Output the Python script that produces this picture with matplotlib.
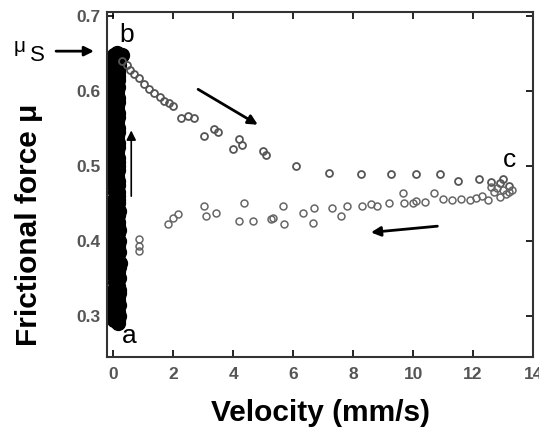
import matplotlib.pyplot as plt

plt.rcParams["font.family"] = ["Liberation Sans", "DejaVu Sans"]

# stick phase a -> b (dense band near zero velocity)
stick_x = [0.16, 0.18, 0.14, 0.17, 0.20, 0.15, 0.18, 0.16, 0.21, 0.14, 0.17, 0.19, 0.15,
           0.17, 0.14, 0.18, 0.15, 0.17, 0.14, 0.16, 0.13, 0.15, 0.17, 0.14, 0.16, 0.13,
           0.15, 0.14, 0.16, 0.13, 0.15, 0.14, 0.13, 0.15, 0.16, 0.18, 0.12]
stick_y = [0.29, 0.30, 0.31, 0.32, 0.33, 0.34, 0.35, 0.36, 0.37, 0.38, 0.39, 0.40, 0.41,
           0.42, 0.43, 0.44, 0.45, 0.46, 0.47, 0.48, 0.49, 0.50, 0.51, 0.52, 0.53, 0.54,
           0.55, 0.56, 0.57, 0.58, 0.59, 0.60, 0.61, 0.62, 0.63, 0.64, 0.65]
stick_x2 = [0.02, 0.04, 0.01, 0.03, 0.02, 0.05, 0.01, 0.03, 0.02, 0.04, 0.01, 0.03, 0.02,
            0.04, 0.01, 0.03, 0.02, 0.05, 0.01, 0.03, 0.02, 0.04, 0.01, 0.03, 0.02, 0.04,
            0.01, 0.03, 0.02, 0.04, 0.01, 0.03, 0.02, 0.04, 0.01, 0.03, 0.02]
stick_y2 = [0.295, 0.305, 0.315, 0.325, 0.335, 0.345, 0.355, 0.365, 0.375, 0.385, 0.395,
            0.405, 0.415, 0.425, 0.435, 0.445, 0.455, 0.465, 0.475, 0.485, 0.495, 0.505,
            0.515, 0.525, 0.535, 0.545, 0.555, 0.565, 0.575, 0.585, 0.595, 0.605, 0.615,
            0.625, 0.635, 0.645, 0.648]
stick_x3 = [0.17, 0.15, 0.19, 0.16, 0.18, 0.14, 0.17, 0.20, 0.15, 0.18, 0.16, 0.14, 0.18,
            0.15, 0.17, 0.14, 0.16, 0.15, 0.17, 0.14, 0.16, 0.15, 0.14, 0.16, 0.13, 0.15,
            0.14, 0.16, 0.13, 0.15, 0.14, 0.16, 0.15, 0.17, 0.20, 0.24, 0.30]
stick_y3 = stick_y2

# slip phase b -> c
desc_x = [0.30, 0.45, 0.55, 0.70, 0.85, 1.03, 1.20, 1.37, 1.55, 1.70, 1.85, 2.00, 2.27,
          2.50, 2.70, 3.03, 3.37, 3.50, 4.00, 4.20, 4.30, 5.00, 5.10, 6.10, 7.20, 8.27,
          9.27, 10.1, 10.9, 11.5, 12.2, 12.6, 12.9, 13.0, 13.2]
desc_y = [0.640, 0.635, 0.628, 0.623, 0.617, 0.609, 0.603, 0.597, 0.592, 0.587, 0.584,
          0.580, 0.564, 0.566, 0.564, 0.540, 0.549, 0.545, 0.523, 0.536, 0.528, 0.520,
          0.514, 0.500, 0.490, 0.489, 0.489, 0.489, 0.489, 0.480, 0.483, 0.478, 0.477,
          0.482, 0.473]

# return c -> a
ret_x = [13.3, 13.2, 13.1, 13.0, 12.9, 12.8, 12.7, 12.6, 12.5, 12.3, 12.1, 11.9, 11.6,
         11.3, 11.0, 10.7, 10.4, 10.1, 10.0, 9.70, 9.67, 9.20, 8.80, 8.60, 8.30, 7.80,
         7.60, 7.30, 6.70, 6.67, 6.33, 5.70, 5.67, 5.33, 5.27, 4.67, 4.37, 4.20, 3.43,
         3.10, 3.03, 2.17, 2.00, 1.83, 0.87, 0.85, 0.87]
ret_y = [0.468, 0.465, 0.462, 0.468, 0.458, 0.470, 0.465, 0.472, 0.455, 0.460, 0.457,
         0.455, 0.456, 0.455, 0.456, 0.464, 0.452, 0.453, 0.450, 0.451, 0.464, 0.451,
         0.447, 0.449, 0.447, 0.447, 0.433, 0.444, 0.444, 0.424, 0.437, 0.423, 0.447,
         0.430, 0.429, 0.427, 0.451, 0.427, 0.437, 0.433, 0.447, 0.436, 0.430, 0.423,
         0.402, 0.393, 0.387]

x_ticks = [0, 2, 4, 6, 8, 10, 12, 14]
y_ticks = [0.3, 0.4, 0.5, 0.6, 0.7]

fig = plt.figure(figsize=(5.39, 4.34), dpi=100)
ax = fig.add_axes([0.199, 0.177, 0.790, 0.795])

for sx, sy in [(stick_x2, stick_y2), (stick_x, stick_y), (stick_x3, stick_y3)]:
    ax.plot(sx, sy, "o", color="black", markersize=10)
ax.plot(desc_x, desc_y, "o", mfc="none", mec="#555555", mew=1.3, markersize=5)
ax.plot(ret_x, ret_y, "o", mfc="none", mec="#666666", mew=1.1, markersize=5)

ax.set_xlim(-0.2, 14)
ax.set_ylim(0.245, 0.705)
ax.set_xticks(x_ticks)
ax.set_yticks(y_ticks)
ax.set_yticklabels([f"{v:.1f}" for v in y_ticks])
ax.tick_params(direction="in", top=True, right=True, length=5, width=1.2,
               labelsize=12.5, labelcolor="#555555")
ax.tick_params(axis="x", pad=7)
ax.tick_params(axis="y", pad=5)
for lab in ax.get_xticklabels() + ax.get_yticklabels():
    lab.set_fontweight("bold")
for sp in ax.spines.values():
    sp.set_linewidth(1.5)
    sp.set_color("#333333")

ax.set_xlabel("Velocity (mm/s)", fontsize=21.5, fontweight="bold")
ax.xaxis.set_label_coords(0.5, -0.12)
ax.set_ylabel("Frictional force μ", fontsize=21.5, fontweight="bold")
ax.yaxis.set_label_coords(-0.15, 0.385)

ax.text(0.2, 0.675, "b", fontsize=19, va="center")
ax.text(0.3, 0.273, "a", fontsize=19, va="center")
ax.text(13.0, 0.508, "c", fontsize=19, va="center")

fig.text(0.037, 0.894, "μ", fontsize=15, ha="center", va="center")
fig.text(0.069, 0.873, "S", fontsize=16, ha="center", va="center")

arrow = dict(arrowstyle="-|>", color="black", lw=2, mutation_scale=14)
ax.annotate("", xy=(-0.55, 0.653), xytext=(-2.0, 0.653), arrowprops=arrow,
            annotation_clip=False)
ax.annotate("", xy=(4.9, 0.553), xytext=(2.75, 0.604), arrowprops=arrow)
ax.annotate("", xy=(8.5, 0.411), xytext=(10.9, 0.420), arrowprops=arrow)
ax.annotate("", xy=(0.6, 0.551), xytext=(0.6, 0.456),
            arrowprops=dict(arrowstyle="-|>", color="black", lw=1.2, mutation_scale=14))

fig.savefig("out.png", dpi=100)
